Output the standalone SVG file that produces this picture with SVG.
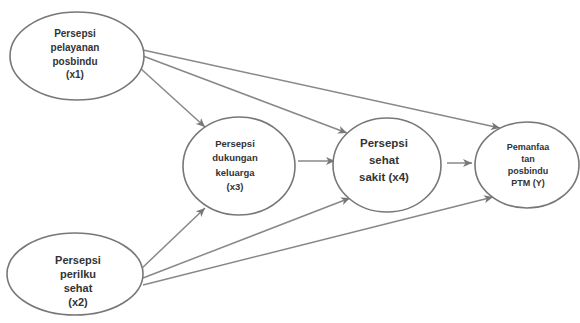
<svg xmlns="http://www.w3.org/2000/svg" width="580" height="323" viewBox="0 0 580 323">
<style>
.node ellipse{fill:#fff;stroke:#777;stroke-width:1.6}
.node text{font-family:"Liberation Sans",Arial,sans-serif;font-weight:bold;fill:#333;text-anchor:middle}
.edge{stroke:#888;stroke-width:1.5;fill:none;marker-end:url(#arr)}
</style>
<defs>
<marker id="arr" markerWidth="10" markerHeight="8" refX="9" refY="4" orient="auto" markerUnits="userSpaceOnUse">
<path d="M0,0 L9,4 L0,8 L2.5,4 Z" fill="#777"/>
</marker>
</defs>
<rect width="580" height="323" fill="#fff"/>
<g id="connectors">
<line class="edge" x1="143" y1="50" x2="500" y2="128"/>
<line class="edge" x1="143" y1="56" x2="347" y2="133"/>
<line class="edge" x1="140" y1="68" x2="205" y2="127"/>
<line class="edge" x1="298" y1="161" x2="335" y2="161"/>
<line class="edge" x1="447" y1="163" x2="472" y2="163"/>
<line class="edge" x1="140" y1="270" x2="205" y2="208"/>
<line class="edge" x1="143" y1="278" x2="350" y2="198"/>
<line class="edge" x1="143" y1="285" x2="493" y2="197"/>
</g>
<g id="x1" class="node">
<ellipse cx="77" cy="56" rx="67" ry="44"/>
<text font-size="10"><tspan x="75" y="36.5">Persepsi</tspan><tspan x="75" y="50.5">pelayanan</tspan><tspan x="75" y="64.5">posbindu</tspan><tspan x="75" y="77.5">(x1)</tspan></text>
</g>
<g id="x2" class="node">
<ellipse cx="75" cy="274" rx="68" ry="41"/>
<text font-size="11"><tspan x="78" y="264">Persepsi</tspan><tspan x="78" y="278">perilku</tspan><tspan x="78" y="292">sehat</tspan><tspan x="78" y="306">(x2)</tspan></text>
</g>
<g id="x3" class="node">
<ellipse cx="239" cy="166" rx="56" ry="49"/>
<text font-size="9.5"><tspan x="235" y="146.5">Persepsi</tspan><tspan x="235" y="161">dukungan</tspan><tspan x="235" y="175.5">keluarga</tspan><tspan x="235" y="190">(x3)</tspan></text>
</g>
<g id="x4" class="node">
<ellipse cx="387" cy="165" rx="54" ry="47"/>
<text font-size="11.5"><tspan x="384" y="147">Persepsi</tspan><tspan x="384" y="164">sehat</tspan><tspan x="384" y="181">sakit (x4)</tspan></text>
</g>
<g id="y" class="node">
<ellipse cx="527" cy="165" rx="52" ry="43"/>
<text font-size="9"><tspan x="528" y="150">Pemanfaa</tspan><tspan x="528" y="161.5">tan</tspan><tspan x="528" y="173.5">posbindu</tspan><tspan x="528" y="186">PTM (Y)</tspan></text>
</g>
</svg>
